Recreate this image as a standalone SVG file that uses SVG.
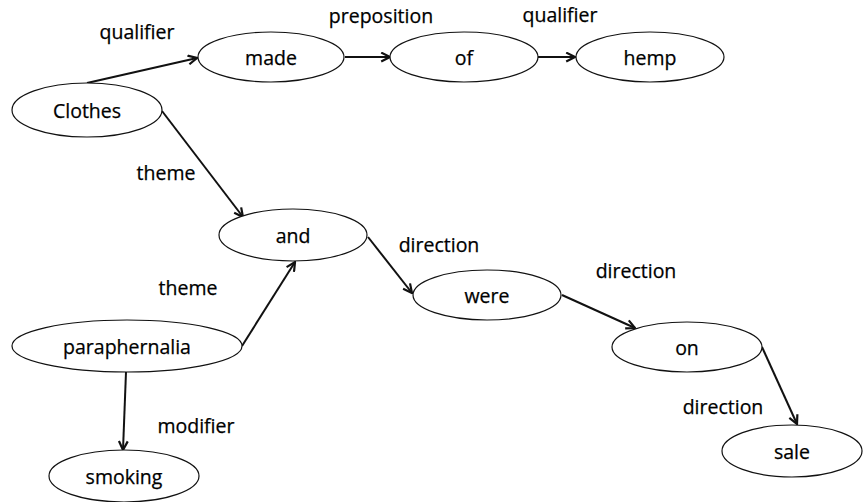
<svg xmlns="http://www.w3.org/2000/svg" width="864" height="502" viewBox="0 0 864 502">
<style>
.node ellipse{fill:#fff;stroke:#111;stroke-width:1.2}
text{font-family:"Open Sans","Liberation Sans",sans-serif;font-size:19.5px;fill:#000;text-anchor:middle;stroke:#000;stroke-width:0.25}
.edges line{stroke:#111;stroke-width:2;marker-end:url(#arr)}
</style>
<defs>
<marker id="arr" viewBox="0 0 10 10" refX="9" refY="5" markerWidth="5.5" markerHeight="5.5" orient="auto" markerUnits="strokeWidth">
<path d="M1,1 L9,5 L1,9" fill="none" stroke="#111" stroke-width="2"/>
</marker>
</defs>
<rect width="864" height="502" fill="#fff"/>
<g class="edges">
<line x1="87" y1="83" x2="197" y2="58"/>
<line x1="345" y1="57" x2="390" y2="57"/>
<line x1="538" y1="57" x2="575" y2="57"/>
<line x1="162" y1="111" x2="243" y2="217"/>
<line x1="242" y1="346" x2="295" y2="262"/>
<line x1="126" y1="372" x2="123" y2="450"/>
<line x1="368" y1="237" x2="412" y2="293"/>
<line x1="562" y1="295" x2="635" y2="328"/>
<line x1="762" y1="347" x2="797" y2="424"/>
<text x="137" y="39">qualifier</text>
<text x="381" y="23">preposition</text>
<text x="560" y="22">qualifier</text>
<text x="166" y="180">theme</text>
<text x="188" y="295">theme</text>
<text x="196" y="433">modifier</text>
<text x="439" y="252">direction</text>
<text x="636" y="278">direction</text>
<text x="723" y="414">direction</text>
</g>
<g id="clothes" class="node"><ellipse cx="87" cy="110" rx="75" ry="27"/><text x="87" y="118">Clothes</text></g>
<g id="made" class="node"><ellipse cx="271" cy="57" rx="73" ry="25"/><text x="271" y="65">made</text></g>
<g id="of" class="node"><ellipse cx="464" cy="57" rx="74" ry="25"/><text x="464" y="65">of</text></g>
<g id="hemp" class="node"><ellipse cx="650" cy="57" rx="74" ry="25"/><text x="650" y="65">hemp</text></g>
<g id="and" class="node"><ellipse cx="293" cy="235" rx="74" ry="26"/><text x="293" y="243">and</text></g>
<g id="paraphernalia" class="node"><ellipse cx="127" cy="346" rx="115" ry="26"/><text x="127" y="354">paraphernalia</text></g>
<g id="smoking" class="node"><ellipse cx="124" cy="476" rx="75" ry="26"/><text x="124" y="484">smoking</text></g>
<g id="were" class="node"><ellipse cx="487" cy="295" rx="74" ry="25"/><text x="487" y="303">were</text></g>
<g id="on" class="node"><ellipse cx="687" cy="347" rx="75" ry="25"/><text x="687" y="355">on</text></g>
<g id="sale" class="node"><ellipse cx="792" cy="451" rx="70" ry="26"/><text x="792" y="459">sale</text></g>
</svg>
